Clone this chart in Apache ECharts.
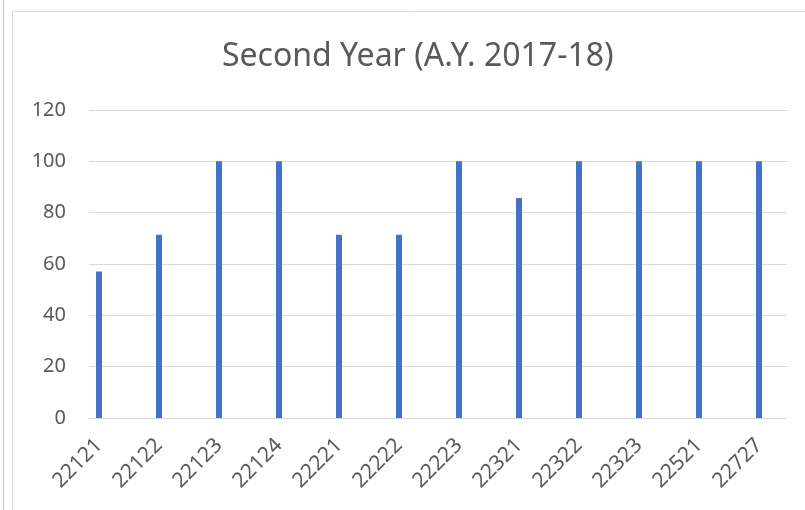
<!DOCTYPE html>
<html>
<head>
<meta charset="utf-8">
<script src="https://cdn.jsdelivr.net/npm/echarts@6/dist/echarts.min.js"></script>
<style>
  html, body { margin: 0; padding: 0; background: #fff; }
  #main { width: 805px; height: 510px; }
</style>
</head>
<body>
<div id="main"></div>
<script>
var categories = ['22121', '22122', '22123', '22124', '22221', '22222', '22223', '22321', '22322', '22323', '22521', '22727'];
var scores = [57.1, 71.4, 100, 100, 71.4, 71.4, 100, 85.7, 100, 100, 100, 100];
var titleText = 'Second Year (A.Y. 2017-18)';

var myChart = echarts.init(document.getElementById('main'));

var textColor = '#595959';
var gridColor = '#d9d9d9';

var option = {
    animation: false,
    title: {
        text: titleText,
        left: 217,
        top: 36,
        textStyle: {
            fontFamily: 'Noto Sans',
            fontWeight: 'normal',
            fontSize: 32,
            color: textColor
        }
    },
    graphic: [
        {
            type: 'rect',
            shape: { x: 12.5, y: 11.5, width: 820, height: 520 },
            style: { fill: 'none', stroke: gridColor, lineWidth: 1 }
        },
        {
            type: 'line',
            shape: { x1: 3.5, y1: 0, x2: 3.5, y2: 510 },
            style: { stroke: '#c8c8c8', lineWidth: 1 }
        }
    ],
    grid: [
        { left: 89, right: 18, top: 110, bottom: 92 },
        { left: 69, right: 16, top: 110, bottom: 92 }
    ],
    xAxis: [
        {
            type: 'category',
            gridIndex: 0,
            data: categories,
            axisLine: { show: false },
            axisTick: { show: false },
            axisLabel: { show: false }
        },
        {
            type: 'category',
            gridIndex: 1,
            data: categories,
            axisLine: { show: false },
            axisTick: { show: false },
            axisLabel: {
                interval: 0,
                rotate: 45,
                margin: 24,
                fontFamily: 'Noto Sans',
                fontSize: 21,
                color: textColor
            }
        }
    ],
    yAxis: [
        {
            type: 'value',
            gridIndex: 0,
            min: 0,
            max: 120,
            interval: 20,
            axisLine: { show: false },
            axisTick: { show: false },
            splitLine: { lineStyle: { color: gridColor, width: 1 } },
            axisLabel: {
                margin: 23,
                fontFamily: 'Noto Sans',
                fontSize: 20,
                color: textColor
            }
        },
        {
            type: 'value',
            gridIndex: 1,
            min: 0,
            max: 120,
            interval: 20,
            show: false
        }
    ],
    series: [
        {
            name: 'Score',
            type: 'bar',
            xAxisIndex: 1,
            yAxisIndex: 1,
            barWidth: 6,
            itemStyle: { color: '#4472C4' },
            data: scores
        }
    ]
};

myChart.setOption(option);
</script>
</body>
</html>
